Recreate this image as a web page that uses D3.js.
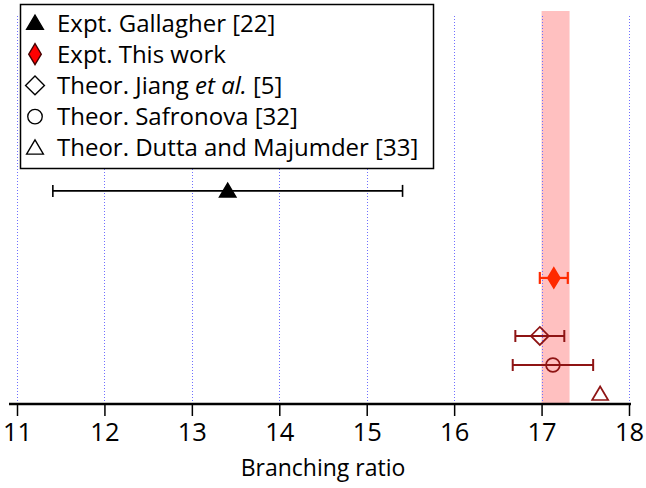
<!DOCTYPE html>
<html>
<head>
<meta charset="utf-8">
<script src="https://cdn.jsdelivr.net/npm/d3@7"></script>
<style>
  html, body { margin: 0; padding: 0; background: #fff; }
  svg { display: block; }
  text { font-family: "Open Sans", "Noto Sans", sans-serif; fill: #000; }
</style>
</head>
<body>
<svg id="chart" width="646" height="488"></svg>
<script>
// Branching ratio measurements and calculations
const sources = ["Gallagher", "This work", "Jiang", "Safronova", "Dutta"];
const values = [13.41, 17.14, 16.98, 17.13, 17.67];
const errors = [2.0, 0.16, 0.28, 0.46, 0];
const rows = [8, 5, 3, 2, 1];
const bandRange = [17.0, 17.32];
const xTicks = [11, 12, 13, 14, 15, 16, 17, 18];
const xTitle = "Branching ratio";

const svg = d3.select("#chart");

const x = d3.scaleLinear().domain([11, 18]).range([17, 629]);
const y = d3.scaleLinear().domain([0.69, 14.2]).range([403, 11]);

const red = "#ff2a00";
const dark = "#8e1414";
const styles = {
  "Gallagher": { color: "#000", shape: "triUp", fill: "#000", bar: 1.6 },
  "This work": { color: red, shape: "thinDiamond", fill: red, bar: 2.2 },
  "Jiang": { color: dark, shape: "diamond", fill: "none", bar: 2 },
  "Safronova": { color: dark, shape: "circle", fill: "none", bar: 2 },
  "Dutta": { color: dark, shape: "triUp", fill: "none", bar: 2 }
};

function markerPath(shape) {
  switch (shape) {
    case "triUp": return "M0,-7.5 L8,6 L-8,6 Z";
    case "thinDiamond": return "M0,-10 L6,0 L0,10 L-6,0 Z";
    case "diamond": return "M0,-9 L9,0 L0,9 L-9,0 Z";
    case "circle": return d3.symbol(d3.symbolCircle, 150)();
  }
}

// Shaded range of this measurement
svg.append("rect")
  .attr("x", x(bandRange[0]))
  .attr("width", x(bandRange[1]) - x(bandRange[0]))
  .attr("y", 11)
  .attr("height", 403 - 11)
  .attr("fill", "#ffc0c0");

// Vertical dotted grid
svg.append("g").selectAll("line").data(xTicks).join("line")
  .attr("x1", d => Math.round(x(d)) + 0.5).attr("x2", d => Math.round(x(d)) + 0.5)
  .attr("y1", 16).attr("y2", 403)
  .attr("stroke", "#6f6fff")
  .attr("stroke-width", 1)
  .attr("stroke-dasharray", "1,2");

// Bottom axis
const axis = svg.append("g").attr("transform", "translate(0,404)")
  .call(d3.axisBottom(x).tickValues(xTicks).tickFormat(d3.format("d")).tickSize(12).tickPadding(7));
axis.select(".domain").remove();
axis.append("line").attr("x1", 9).attr("x2", 631).attr("y1", 0).attr("y2", 0)
  .attr("stroke", "#000").attr("stroke-width", 2.4);
axis.selectAll(".tick line").attr("stroke", "#000").attr("stroke-width", 1.5);
axis.selectAll(".tick text")
  .attr("fill", "#000")
  .style("font-family", "'Open Sans', 'Noto Sans', sans-serif")
  .style("font-size", "25.5px");

svg.append("text")
  .attr("x", (x(11) + x(18)) / 2)
  .attr("y", 476)
  .attr("text-anchor", "middle")
  .style("font-size", "23px")
  .text(xTitle);

// Error bars and markers
const pts = svg.append("g");
sources.forEach((s, i) => {
  const st = styles[s];
  const cy = y(rows[i]);
  const cx = x(values[i]);
  if (errors[i] > 0) {
    const x0 = x(values[i] - errors[i]), x1 = x(values[i] + errors[i]);
    pts.append("line").attr("x1", x0).attr("x2", x1).attr("y1", cy).attr("y2", cy)
      .attr("stroke", st.color).attr("stroke-width", st.bar);
    [x0, x1].forEach(xx => pts.append("line")
      .attr("x1", xx).attr("x2", xx).attr("y1", cy - 6).attr("y2", cy + 6)
      .attr("stroke", st.color).attr("stroke-width", st.bar));
  }
  pts.append("path")
    .attr("d", markerPath(st.shape))
    .attr("transform", `translate(${cx},${cy})`)
    .attr("fill", st.fill === "none" ? "none" : st.fill)
    .attr("stroke", st.color)
    .attr("stroke-width", 1.7);
});

// Legend
const legendItems = [
  { shape: "triUp", fill: "#000", stroke: "#000", parts: [["Expt. Gallagher [22]", false]] },
  { shape: "thinDiamond", fill: "#ff0000", stroke: "#400", parts: [["Expt. This work", false]] },
  { shape: "diamond", fill: "#fff", stroke: "#000", parts: [["Theor. Jiang ", false], ["et al.", true], [" [5]", false]] },
  { shape: "circle", fill: "#fff", stroke: "#000", parts: [["Theor. Safronova [32]", false]] },
  { shape: "triUp", fill: "#fff", stroke: "#000", parts: [["Theor. Dutta and Majumder [33]", false]] }
];
const lg = svg.append("g");
lg.append("rect").attr("x", 20.5).attr("y", 4.5).attr("width", 413).attr("height", 164)
  .attr("fill", "#fff").attr("stroke", "#000").attr("stroke-width", 1.5);
legendItems.forEach((it, i) => {
  const cy = 23 + i * 31.2;
  lg.append("path").attr("d", markerPath(it.shape))
    .attr("transform", `translate(35,${cy}) scale(1.05)`)
    .attr("fill", it.fill).attr("stroke", it.stroke).attr("stroke-width", 1.3);
  const t = lg.append("text").attr("x", 57).attr("y", cy + 8.5).style("font-size", "24px")
    .attr("xml:space", "preserve");
  it.parts.forEach(p => t.append("tspan").style("font-style", p[1] ? "italic" : "normal").text(p[0]));
});
</script>
</body>
</html>
